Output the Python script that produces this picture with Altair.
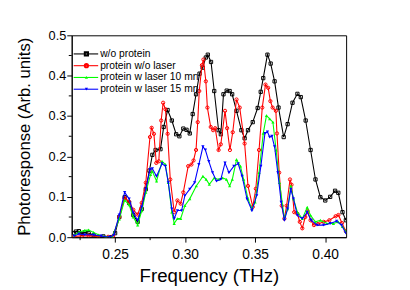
import altair as alt
import pandas as pd

series_names = ["w/o protein", "protein w/o laser", "protein w laser 10 mn", "protein w laser 15 mn"]
series_colors = ["#000000", "#ff0000", "#00ff00", "#0000ff"]
series_shapes = ["square", "circle", "triangle-up", "triangle-down"]
series_filled = [False, False, True, True]

freq_black = [0.2206, 0.2220, 0.2241, 0.2262, 0.2283, 0.2311, 0.2346, 0.2416, 0.2472, 0.2500,
              0.2530, 0.2568, 0.2600, 0.2630, 0.2661, 0.2690, 0.2719, 0.2745, 0.2766, 0.2789,
              0.2824, 0.2847, 0.2875, 0.2905, 0.2936, 0.2959, 0.2987, 0.3010, 0.3033, 0.3054,
              0.3078, 0.3103, 0.3125, 0.3148, 0.3162, 0.3185, 0.3208, 0.3239, 0.3255, 0.3274,
              0.3297, 0.3318, 0.3336, 0.3367, 0.3402, 0.3425, 0.3449, 0.3483, 0.3518, 0.3540,
              0.3558, 0.3588, 0.3611, 0.3639, 0.3667, 0.3704, 0.3732, 0.3767, 0.3802, 0.3826,
              0.3861, 0.3896, 0.3931, 0.3966, 0.4001, 0.4036, 0.4071, 0.4094, 0.4124, 0.4148]
resp_black = [0.010, 0.014, 0.015, 0.008, 0.012, 0.010, 0.005, 0.002, 0.000, 0.010,
              0.050, 0.099, 0.085, 0.055, 0.038, 0.070, 0.119, 0.165, 0.204, 0.216,
              0.218, 0.273, 0.315, 0.289, 0.255, 0.250, 0.269, 0.266, 0.257, 0.305,
              0.354, 0.405, 0.420, 0.445, 0.452, 0.434, 0.362, 0.265, 0.255, 0.354,
              0.363, 0.362, 0.354, 0.313, 0.265, 0.245, 0.265, 0.285, 0.320, 0.360,
              0.394, 0.452, 0.430, 0.386, 0.321, 0.248, 0.280, 0.333, 0.355, 0.347,
              0.289, 0.216, 0.143, 0.099, 0.091, 0.100, 0.115, 0.110, 0.062, 0.042]

freq_red = [0.2206, 0.2262, 0.2311, 0.2380, 0.2450, 0.2486, 0.2530, 0.2568, 0.2600, 0.2630,
            0.2661, 0.2690, 0.2719, 0.2749, 0.2761, 0.2777, 0.2794, 0.2812, 0.2829, 0.2843,
            0.2859, 0.2875, 0.2894, 0.2922, 0.2945, 0.2968, 0.2987, 0.3022, 0.3045, 0.3060,
            0.3078, 0.3090, 0.3101, 0.3120, 0.3131, 0.3148, 0.3159, 0.3183, 0.3200, 0.3215,
            0.3239, 0.3255, 0.3285, 0.3300, 0.3320, 0.3340, 0.3367, 0.3390, 0.3425, 0.3449,
            0.3483, 0.3505, 0.3528, 0.3551, 0.3574, 0.3593, 0.3609, 0.3625, 0.3648, 0.3656,
            0.3672, 0.3690, 0.3709, 0.3725, 0.3749, 0.3760, 0.3779, 0.3802, 0.3819, 0.3837,
            0.3858, 0.3875, 0.3896, 0.3920, 0.3950, 0.3990, 0.4030, 0.4075, 0.4095, 0.4120,
            0.4148]
resp_red = [0.002, 0.003, 0.004, 0.002, 0.001, 0.003, 0.050, 0.097, 0.088, 0.068,
            0.056, 0.085, 0.135, 0.248, 0.271, 0.256, 0.184, 0.188, 0.289, 0.333,
            0.317, 0.256, 0.143, 0.062, 0.091, 0.083, 0.111, 0.176, 0.180, 0.190,
            0.216, 0.285, 0.362, 0.426, 0.440, 0.386, 0.321, 0.273, 0.265, 0.270,
            0.216, 0.230, 0.313, 0.270, 0.216, 0.260, 0.341, 0.321, 0.232, 0.127,
            0.075, 0.120, 0.216, 0.321, 0.378, 0.370, 0.337, 0.321, 0.313, 0.257,
            0.160, 0.078, 0.046, 0.078, 0.143, 0.130, 0.062, 0.058, 0.038, 0.022,
            0.050, 0.065, 0.042, 0.030, 0.033, 0.038, 0.042, 0.052, 0.055, 0.035,
            0.015]

freq_green = [0.2206, 0.2241, 0.2283, 0.2311, 0.2346, 0.2381, 0.2430, 0.2480, 0.2530, 0.2568,
              0.2600, 0.2630, 0.2661, 0.2690, 0.2719, 0.2753, 0.2766, 0.2796, 0.2835, 0.2859,
              0.2880, 0.2905, 0.2922, 0.2945, 0.2968, 0.2998, 0.3033, 0.3080, 0.3127, 0.3150,
              0.3173, 0.3208, 0.3239, 0.3267, 0.3295, 0.3318, 0.3337, 0.3367, 0.3395, 0.3418,
              0.3449, 0.3477, 0.3500, 0.3528, 0.3558, 0.3581, 0.3604, 0.3627, 0.3650, 0.3674,
              0.3709, 0.3732, 0.3755, 0.3774, 0.3802, 0.3837, 0.3872, 0.3896, 0.3930, 0.3966,
              0.4012, 0.4059, 0.4094, 0.4124, 0.4148]
resp_green = [0.005, 0.012, 0.017, 0.018, 0.012, 0.006, 0.001, 0.001, 0.045, 0.092,
              0.080, 0.050, 0.030, 0.065, 0.111, 0.155, 0.163, 0.139, 0.188, 0.180,
              0.135, 0.062, 0.034, 0.046, 0.046, 0.078, 0.095, 0.127, 0.151, 0.143,
              0.131, 0.147, 0.143, 0.147, 0.143, 0.127, 0.143, 0.192, 0.176, 0.143,
              0.095, 0.070, 0.087, 0.160, 0.257, 0.301, 0.293, 0.285, 0.216, 0.135,
              0.046, 0.070, 0.127, 0.095, 0.062, 0.046, 0.074, 0.054, 0.038, 0.042,
              0.034, 0.034, 0.038, 0.026, 0.014]

freq_blue = [0.2206, 0.2241, 0.2283, 0.2346, 0.2400, 0.2460, 0.2490, 0.2530, 0.2568, 0.2600,
             0.2630, 0.2661, 0.2690, 0.2719, 0.2749, 0.2766, 0.2796, 0.2835, 0.2859, 0.2880,
             0.2905, 0.2922, 0.2945, 0.2975, 0.2998, 0.3033, 0.3068, 0.3098, 0.3127, 0.3145,
             0.3169, 0.3196, 0.3224, 0.3255, 0.3285, 0.3313, 0.3348, 0.3379, 0.3407, 0.3442,
             0.3477, 0.3511, 0.3541, 0.3570, 0.3588, 0.3604, 0.3620, 0.3639, 0.3662, 0.3686,
             0.3709, 0.3732, 0.3755, 0.3774, 0.3802, 0.3837, 0.3872, 0.3900, 0.3942, 0.3989,
             0.4036, 0.4082, 0.4117, 0.4148]
resp_blue = [0.003, 0.008, 0.006, 0.006, 0.003, 0.000, 0.005, 0.055, 0.111, 0.095,
             0.060, 0.042, 0.075, 0.119, 0.168, 0.170, 0.151, 0.182, 0.176, 0.135,
             0.070, 0.046, 0.066, 0.066, 0.103, 0.119, 0.135, 0.180, 0.224, 0.216,
             0.188, 0.160, 0.139, 0.143, 0.184, 0.160, 0.176, 0.182, 0.151, 0.095,
             0.066, 0.103, 0.176, 0.257, 0.261, 0.248, 0.250, 0.224, 0.160, 0.087,
             0.042, 0.070, 0.119, 0.095, 0.054, 0.046, 0.062, 0.042, 0.030, 0.030,
             0.034, 0.040, 0.030, 0.010]

x_ticks = [0.25, 0.30, 0.35, 0.40]
x_minor = [0.225, 0.275, 0.325, 0.375]
y_ticks = [0.0, 0.1, 0.2, 0.3, 0.4, 0.5]
y_minor = [0.05, 0.15, 0.25, 0.35, 0.45]

FONT = "Liberation Sans"
W, H = 280, 206

freqs = [freq_black, freq_red, freq_green, freq_blue]
resps = [resp_black, resp_red, resp_green, resp_blue]

xscale = alt.Scale(domain=[0.219, 0.415], nice=False, zero=False)
yscale = alt.Scale(domain=[0.0, 0.5], nice=False, zero=False)

xaxis = alt.Axis(values=x_ticks, format=".2f", title="Frequency (THz)", grid=False,
                 labelFontSize=14, titleFontSize=19, titleFontWeight="normal",
                 tickSize=5, labelPadding=6, titlePadding=5, labelFont=FONT, titleFont=FONT,
                 domainColor="black", tickColor="black", labelColor="black", titleColor="black")
yaxis = alt.Axis(values=y_ticks, format=".1f", title="Photoresponse (Arb. units)", grid=False,
                 labelFontSize=13, titleFontSize=17, titleFontWeight="normal",
                 tickSize=5, labelPadding=1, titlePadding=15, labelFont=FONT, titleFont=FONT,
                 domainColor="black", tickColor="black", labelColor="black", titleColor="black")

X = alt.X("f:Q", scale=xscale, axis=xaxis)
Y = alt.Y("v:Q", scale=yscale, axis=yaxis)

layers = []
for i, name in enumerate(series_names):
    df = pd.DataFrame({"f": freqs[i], "v": resps[i]})
    line = alt.Chart(df).mark_line(color=series_colors[i], strokeWidth=1.1, clip=True).encode(x=X, y=Y)
    pts = alt.Chart(df).mark_point(shape=series_shapes[i], filled=series_filled[i],
                                   color=series_colors[i], size=11, strokeWidth=1,
                                   opacity=1, clip=True).encode(x=X, y=Y)
    layers += [line, pts]

# minor ticks
xm = alt.Chart(pd.DataFrame({"f": x_minor})).mark_rule(color="black", strokeWidth=1).encode(
    x=X, y=alt.value(H), y2=alt.value(H + 3))
ym = alt.Chart(pd.DataFrame({"v": y_minor})).mark_rule(color="black", strokeWidth=1).encode(
    y=Y, x=alt.value(-3), x2=alt.value(0))
layers += [xm, ym]

# legend
for i, name in enumerate(series_names):
    yp = 19 + 12 * i
    ldf = pd.DataFrame({"label": [name]})
    layers.append(alt.Chart(ldf).mark_rule(color=series_colors[i], strokeWidth=1.1).encode(
        x=alt.value(2), x2=alt.value(27), y=alt.value(yp)))
    layers.append(alt.Chart(ldf).mark_point(shape=series_shapes[i], filled=series_filled[i],
                                            color=series_colors[i], size=11, opacity=1).encode(
        x=alt.value(15), y=alt.value(yp)))
    layers.append(alt.Chart(ldf).mark_text(align="left", baseline="middle", fontSize=10.5,
                                           font=FONT, color="black").encode(
        x=alt.value(29), y=alt.value(yp), text="label:N"))

chart = alt.layer(*layers).properties(
    width=W, height=H,
    autosize=alt.AutoSizeParams(type="none"),
    padding={"left": 65, "top": 25, "right": 57, "bottom": 51},
).configure(background="white").configure_view(stroke="black", strokeWidth=1)

chart.save("out.html", embed_options={"renderer": "svg", "actions": False})
